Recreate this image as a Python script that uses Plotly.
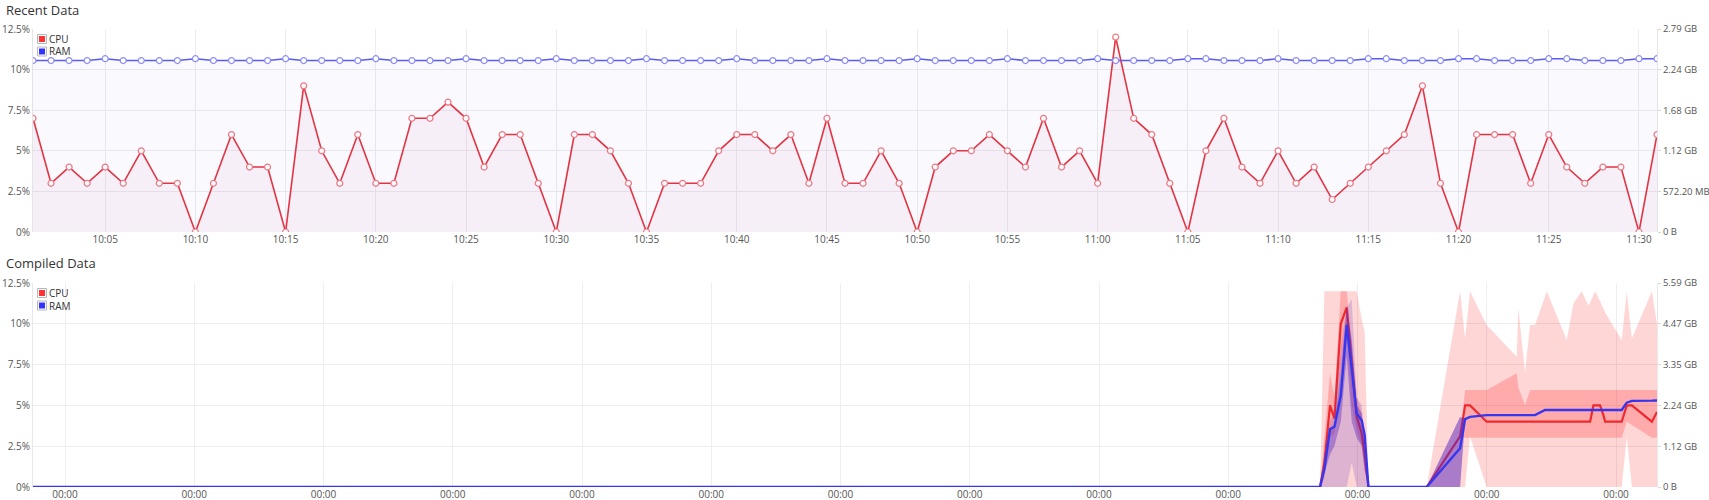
import pandas as pd
import plotly.graph_objects as go

# ---------------- Recent Data ----------------
recent_time = pd.date_range("2024-03-13 10:01", "2024-03-13 11:31", freq="1min")
recent_cpu = [7, 3, 4, 3, 4, 3, 5, 3, 3, 0,
              3, 6, 4, 4, 0, 9, 5, 3, 6, 3,
              3, 7, 7, 8, 7, 4, 6, 6, 3, 0,
              6, 6, 5, 3, 0, 3, 3, 3, 5, 6,
              6, 5, 6, 3, 7, 3, 3, 5, 3, 0,
              4, 5, 5, 6, 5, 4, 7, 4, 5, 3,
              12, 7, 6, 3, 0, 5, 7, 4, 3, 5,
              3, 4, 2, 3, 4, 5, 6, 9, 3, 0,
              6, 6, 6, 3, 6, 4, 3, 4, 4, 0,
              6]
recent_ram_gb = [2.36, 2.36, 2.36, 2.36, 2.385, 2.36, 2.36, 2.36, 2.36, 2.385,
                 2.36, 2.36, 2.36, 2.36, 2.385, 2.36, 2.36, 2.36, 2.36, 2.385,
                 2.36, 2.36, 2.36, 2.36, 2.385, 2.36, 2.36, 2.36, 2.36, 2.385,
                 2.36, 2.36, 2.36, 2.36, 2.385, 2.36, 2.36, 2.36, 2.36, 2.385,
                 2.36, 2.36, 2.36, 2.36, 2.385, 2.36, 2.36, 2.36, 2.36, 2.385,
                 2.36, 2.36, 2.36, 2.36, 2.385, 2.36, 2.36, 2.36, 2.36, 2.385,
                 2.36, 2.36, 2.36, 2.36, 2.385, 2.385, 2.36, 2.36, 2.36, 2.385,
                 2.36, 2.36, 2.36, 2.36, 2.385, 2.385, 2.36, 2.36, 2.36, 2.385,
                 2.385, 2.36, 2.36, 2.36, 2.385, 2.385, 2.36, 2.36, 2.36, 2.385,
                 2.385]
recent_ram_max_gb = 2.794
recent_ram_ticktext = ["0 B", "572.20 MB", "1.12 GB", "1.68 GB", "2.24 GB", "2.79 GB"]

# ---------------- Compiled Data ----------------
compiled_time = [
    "2024-02-29 18:03",
    "2024-03-10 17:02", "2024-03-10 17:50", "2024-03-10 18:53", "2024-03-10 19:42",
    "2024-03-10 20:53", "2024-03-10 21:59", "2024-03-10 22:55", "2024-03-10 23:51",
    "2024-03-11 00:46", "2024-03-11 01:19", "2024-03-11 02:01",
    "2024-03-11 12:50", "2024-03-11 19:02", "2024-03-11 19:58", "2024-03-11 20:53",
    "2024-03-11 23:58", "2024-03-12 05:33", "2024-03-12 05:51", "2024-03-12 07:06",
    "2024-03-12 08:02", "2024-03-12 08:57", "2024-03-12 10:49", "2024-03-12 11:08",
    "2024-03-12 14:50", "2024-03-12 16:05", "2024-03-12 17:37", "2024-03-12 18:52",
    "2024-03-12 19:11", "2024-03-12 19:47", "2024-03-12 20:07", "2024-03-12 21:01",
    "2024-03-12 21:39", "2024-03-12 21:58", "2024-03-13 01:03", "2024-03-13 01:59",
    "2024-03-13 02:56", "2024-03-13 06:39", "2024-03-13 07:36",
]
compiled_cpu = [0, 0, 1.5, 5.0, 4.2, 10.0, 11.0, 7.5, 4.3, 3.3, 2.0, 0,
                0, 3.1, 5, 5, 4, 4, 4, 4, 4, 4, 4, 4, 4, 4, 4, 4, 4,
                5, 5, 5, 4.4, 4, 4, 5, 5, 4, 4.6]
compiled_cpu_max = [0, 0, 12, 12, 12, 12, 12, 12, 12, 10.3, 9.5, 0,
                    0, 12, 9.1, 12, 9.93, 7.98, 10.95, 7.06, 9.93, 9.93, 11.7, 12,
                    9.0, 11.25, 12, 11.1, 11.3, 11.76, 12, 11.4, 10.95, 10.7,
                    9.0, 12, 9.1, 12, 10.0]
compiled_cpu_min = [0, 0, 0, 0, 0, 0, 0, 0, 0, 0, 0, 0,
                    0, 0, 0, 3.08, 0, 0, 0, 0, 0, 0, 0, 0,
                    0, 0, 0, 0, 0, 0, 0, 0, 0, 0,
                    0, 3.08, 0, 0, 0]
compiled_cpu_q_hi = [0, 0, 3.0, 7.0, 5.5, 12, 12, 8.5, 5.5, 4.5, 2.5, 0,
                     0, 3.1, 5.94, 5.94, 5.94, 6.97, 6.1, 5.02, 5.94, 5.94, 5.94, 5.94,
                     5.94, 5.94, 5.94, 5.94, 5.94, 5.94, 5.94, 5.94, 5.94, 5.94,
                     5.94, 5.94, 5.94, 5.94, 5.94]
compiled_cpu_q_lo = [0, 0, 0.5, 3.0, 3.3, 7.0, 9.5, 5.0, 3.5, 2.5, 1.0, 0,
                     0, 3.1, 3.02, 3.02, 3.02, 3.02, 3.02, 3.02, 3.02, 3.02, 3.02, 3.02,
                     3.02, 3.02, 3.02, 3.02, 3.02, 3.02, 3.02, 3.02, 3.02, 3.02,
                     3.02, 4.0, 3.8, 3.02, 3.02]
compiled_ram_gb = [0, 0, 0.49, 1.59, 1.65, 2.50, 4.44, 3.16, 2.01, 1.83, 1.43, 0,
                   0, 1.06, 1.86, 1.92, 1.97, 1.97, 1.97, 1.97, 1.97, 1.97, 2.11, 2.11,
                   2.11, 2.11, 2.11, 2.11, 2.11, 2.11, 2.11, 2.11, 2.11, 2.11,
                   2.11, 2.31, 2.36, 2.365, 2.37]
compiled_ram_max_gb = [0, 0, 0.89, 1.79, 2.01, 3.80, 4.92, 5.14, 2.46, 2.24, 1.34, 0,
                       0, 1.92, 1.86, 1.92, 1.97, 1.97, 1.97, 1.97, 1.97, 1.97, 2.11, 2.11,
                       2.11, 2.11, 2.11, 2.11, 2.11, 2.11, 2.11, 2.11, 2.11, 2.11,
                       2.11, 2.31, 2.36, 2.365, 2.37]
compiled_ram_min_gb = [0, 0, 0, 0, 0, 0, 0, 0.67, 0, 0, 0, 0,
                       0, 0, 1.86, 1.92, 1.97, 1.97, 1.97, 1.97, 1.97, 1.97, 2.11, 2.11,
                       2.11, 2.11, 2.11, 2.11, 2.11, 2.11, 2.11, 2.11, 2.11, 2.11,
                       2.11, 2.31, 2.36, 2.365, 2.37]
compiled_ram_q_hi_gb = [0, 0, 0.54, 1.61, 1.70, 3.13, 4.92, 4.02, 2.24, 2.01, 1.34, 0,
                        0, 1.92, 1.86, 1.92, 1.97, 1.97, 1.97, 1.97, 1.97, 1.97, 2.11, 2.11,
                        2.11, 2.11, 2.11, 2.11, 2.11, 2.11, 2.11, 2.11, 2.11, 2.11,
                        2.11, 2.31, 2.36, 2.365, 2.37]
compiled_ram_q_lo_gb = [0, 0, 0.36, 0.89, 1.12, 1.79, 3.58, 1.79, 1.34, 1.12, 0.45, 0,
                        0, 0, 1.86, 1.92, 1.97, 1.97, 1.97, 1.97, 1.97, 1.97, 2.11, 2.11,
                        2.11, 2.11, 2.11, 2.11, 2.11, 2.11, 2.11, 2.11, 2.11, 2.11,
                        2.11, 2.31, 2.36, 2.365, 2.37]
compiled_ram_max_axis_gb = 5.588
compiled_ram_ticktext = ["0 B", "1.12 GB", "2.24 GB", "3.35 GB", "4.47 GB", "5.59 GB"]

legend_names = ["CPU", "RAM"]
legend_colors = ["#ff3333", "#3333ff"]

CPU_LINE = "#e8323c"
RAM_LINE = "#5b5bef"
GRID = "#ececf1"
TICKFONT = dict(family="Open Sans", size=10, color="#555")
RIGHT_TICKFONT = dict(family="Open Sans", size=9.5, color="#555")

# pixel geometry of the page (1709 x 500)
W, H = 1709, 500
L, R, T, B = 33, 52, 29, 13
PW, PH = W - L - R, H - T - B


def px_x(p):
    return (p - L) / PW


def px_y(p):
    return (H - B - p) / PH


fig = go.Figure()

# ---- top chart ----
fig.add_trace(go.Scatter(
    x=recent_time, y=recent_ram_gb, yaxis="y2", xaxis="x", mode="lines+markers",
    line=dict(color=RAM_LINE, width=1.6), fill="tozeroy", fillcolor="rgba(120,120,235,0.045)",
    marker=dict(symbol="circle", size=6, color="white", line=dict(color="#8c8cf5", width=1.2)),
    showlegend=False, hoverinfo="skip"))
fig.add_trace(go.Scatter(
    x=recent_time, y=recent_cpu, yaxis="y", xaxis="x", mode="lines+markers",
    line=dict(color=CPU_LINE, width=1.6), fill="tozeroy", fillcolor="rgba(215,60,110,0.05)",
    marker=dict(symbol="circle", size=6, color="white", line=dict(color="#f07a80", width=1.2)),
    showlegend=False, hoverinfo="skip"))

# ---- bottom chart ----
def band(lo, hi, yax, color):
    fig.add_trace(go.Scatter(x=compiled_time, y=lo, xaxis="x2", yaxis=yax, mode="lines",
                             line=dict(width=0), showlegend=False, hoverinfo="skip"))
    fig.add_trace(go.Scatter(x=compiled_time, y=hi, xaxis="x2", yaxis=yax, mode="lines",
                             line=dict(width=0), fill="tonexty", fillcolor=color,
                             showlegend=False, hoverinfo="skip"))

band(compiled_cpu_min, compiled_cpu_max, "y3", "rgba(255,0,0,0.16)")
band(compiled_cpu_q_lo, compiled_cpu_q_hi, "y3", "rgba(255,0,0,0.2)")
band(compiled_ram_min_gb, compiled_ram_max_gb, "y4", "rgba(90,40,190,0.2)")
band(compiled_ram_q_lo_gb, compiled_ram_q_hi_gb, "y4", "rgba(90,40,190,0.4)")

fig.add_trace(go.Scatter(x=compiled_time, y=compiled_cpu, xaxis="x2", yaxis="y3", mode="lines",
                         line=dict(color="#ee2a30", width=2.2), showlegend=False, hoverinfo="skip"))
fig.add_trace(go.Scatter(x=compiled_time, y=compiled_ram_gb, xaxis="x2", yaxis="y4", mode="lines",
                         line=dict(color="#3636f0", width=2.4), showlegend=False, hoverinfo="skip"))

# ---- legends (swatch + label, top-left of each chart) ----
shapes = []
annotations = []
for top_px in (34.5, 288.5):
    for i, (name, col) in enumerate(zip(legend_names, legend_colors)):
        y0 = top_px + i * 12.5
        shapes.append(dict(type="rect", xref="paper", yref="paper",
                           x0=px_x(37.5), x1=px_x(46.5), y0=px_y(y0 + 9), y1=px_y(y0),
                           line=dict(color="#b8b8b8", width=1), fillcolor="white", layer="above"))
        shapes.append(dict(type="rect", xref="paper", yref="paper",
                           x0=px_x(39), x1=px_x(45), y0=px_y(y0 + 7.5), y1=px_y(y0 + 1.5),
                           line=dict(width=0), fillcolor=col, layer="above"))
        annotations.append(dict(text=name, xref="paper", yref="paper", x=px_x(47), y=px_y(y0 + 4.5),
                                xanchor="left", yanchor="middle", showarrow=False,
                                font=dict(family="Open Sans", size=10, color="#333")))

annotations.append(dict(text="Recent Data", xref="paper", yref="paper", x=px_x(4), y=px_y(10),
                        xanchor="left", yanchor="middle", showarrow=False,
                        font=dict(family="Open Sans", size=13, color="#333")))
annotations.append(dict(text="Compiled Data", xref="paper", yref="paper", x=px_x(4), y=px_y(263),
                        xanchor="left", yanchor="middle", showarrow=False,
                        font=dict(family="Open Sans", size=13, color="#333")))

top_dom = [px_y(232), 1.0]
bot_dom = [0.0, px_y(283)]
recent_tickvals = [recent_ram_max_gb * i / 5 for i in range(6)]
compiled_tickvals = [compiled_ram_max_axis_gb * i / 5 for i in range(6)]

fig.update_layout(
    width=W, height=H,
    margin=dict(l=L, r=R, t=T, b=B),
    paper_bgcolor="white", plot_bgcolor="white",
    font=dict(family="Open Sans", size=10, color="#555"),
    showlegend=False,
    xaxis=dict(domain=[0, 1], anchor="y", type="date", automargin=False,
               range=[recent_time[0], recent_time[-1]],
               tick0="2024-03-13 10:00", dtick=300000, tickformat="%H:%M",
               showgrid=True, gridcolor=GRID, zeroline=False, showline=False,
               tickfont=TICKFONT, ticks=""),
    yaxis=dict(domain=top_dom, anchor="x", range=[0, 12.5], dtick=2.5, ticksuffix="%",
               automargin=False,
               showgrid=True, gridcolor=GRID, zeroline=False, showline=True, linecolor="#e4e4e8",
               tickfont=TICKFONT, ticks=""),
    yaxis2=dict(overlaying="y", anchor="x", side="right", range=[0, recent_ram_max_gb],
                tickvals=recent_tickvals, ticktext=recent_ram_ticktext, automargin=False,
                showgrid=False, zeroline=False, showline=True, linecolor="#e4e4e8",
                ticks="outside", ticklen=3, tickcolor="#d8d8d8", tickfont=RIGHT_TICKFONT),
    xaxis2=dict(domain=[0, 1], anchor="y3", type="date", automargin=False,
                range=[compiled_time[0], compiled_time[-1]],
                tick0="2024-03-01", dtick=86400000, tickformat="%H:%M",
                showgrid=True, gridcolor="#eeeeee", zeroline=False, showline=False,
                tickfont=TICKFONT, ticks=""),
    yaxis3=dict(domain=bot_dom, anchor="x2", range=[0, 12.5], dtick=2.5, ticksuffix="%",
                automargin=False,
                showgrid=True, gridcolor="#eeeeee", zeroline=False, showline=True, linecolor="#e8e8e8",
                tickfont=TICKFONT, ticks=""),
    yaxis4=dict(overlaying="y3", anchor="x2", side="right", range=[0, compiled_ram_max_axis_gb],
                tickvals=compiled_tickvals, ticktext=compiled_ram_ticktext, automargin=False,
                showgrid=False, zeroline=False, showline=True, linecolor="#e8e8e8",
                ticks="outside", ticklen=3, tickcolor="#d8d8d8", tickfont=RIGHT_TICKFONT),
    shapes=shapes,
    annotations=annotations,
)

fig.write_html("out.html", config={"displayModeBar": False},
               post_script="document.body.style.margin='0';")
